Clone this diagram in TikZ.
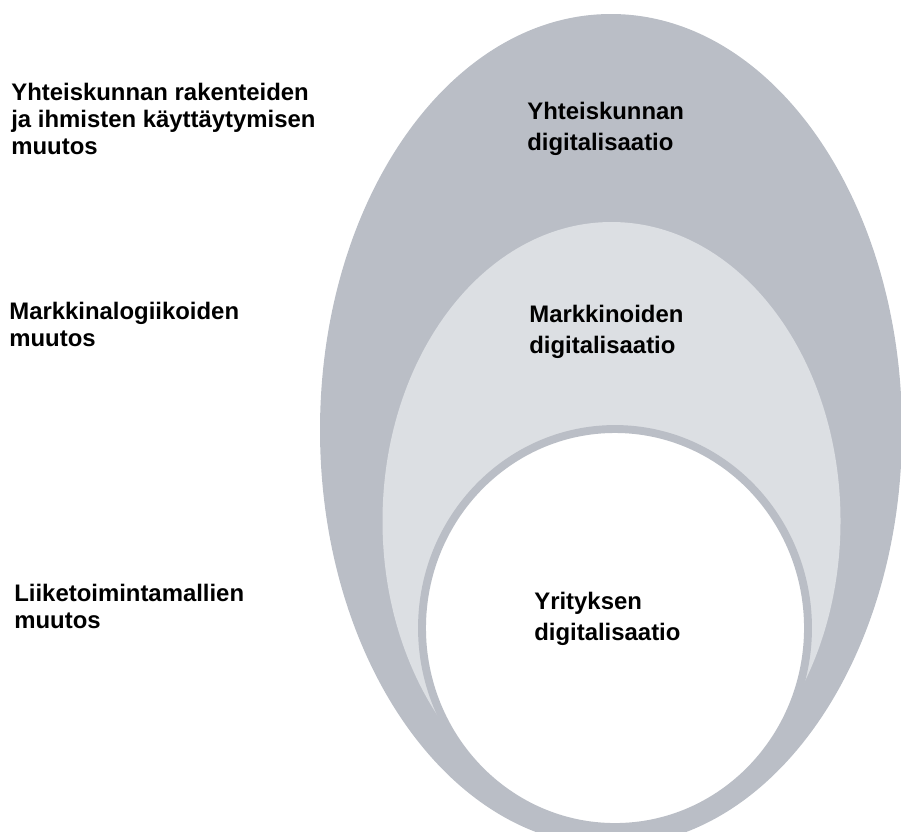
\documentclass[tikz,border=0pt]{standalone}
\usepackage{fontspec}
\setmainfont{Liberation Sans}
\definecolor{fillOuter}{RGB}{186,190,198}
\definecolor{fillMid}{RGB}{220,223,227}

\begin{document}
\begin{tikzpicture}[line cap=round,
  lbl/.style={anchor=north west, inner sep=0pt, align=left,
    font=\bfseries\fontsize{13.6}{15.4}\selectfont},
  inlbl/.style={lbl, font=\bfseries\fontsize{13.6}{17.8}\selectfont}]
\useasboundingbox (0,0) rectangle (18.02,-16.62);
\clip (0,0) rectangle (18.02,-16.62);
% 三层椭圆
\fill[fillOuter] (12.22,-8.60) ellipse (5.82 and 8.32);
\fill[fillMid] (12.23,-10.42) ellipse (4.58 and 5.98);
\draw[fillOuter, line width=4.5pt, fill=white] (12.30,-12.56) ellipse (3.86 and 3.98);
% 左侧说明
\node[lbl] (lblSociety) at (0.22,-1.66)
  {Yhteiskunnan rakenteiden\\ja ihmisten käyttäytymisen\\muutos};
\node[lbl] (lblMarket) at (0.18,-6.04) {Markkinalogiikoiden\\muutos};
\node[lbl] (lblBusiness) at (0.28,-11.68) {Liiketoimintamallien\\muutos};
% 椭圆内标注
\node[inlbl] (inSociety) at (10.54,-2.04) {Yhteiskunnan\\digitalisaatio};
\node[inlbl] (inMarket) at (10.58,-6.10) {Markkinoiden\\digitalisaatio};
\node[inlbl] (inBusiness) at (10.68,-11.84) {Yrityksen\\digitalisaatio};
\end{tikzpicture}
\end{document}
